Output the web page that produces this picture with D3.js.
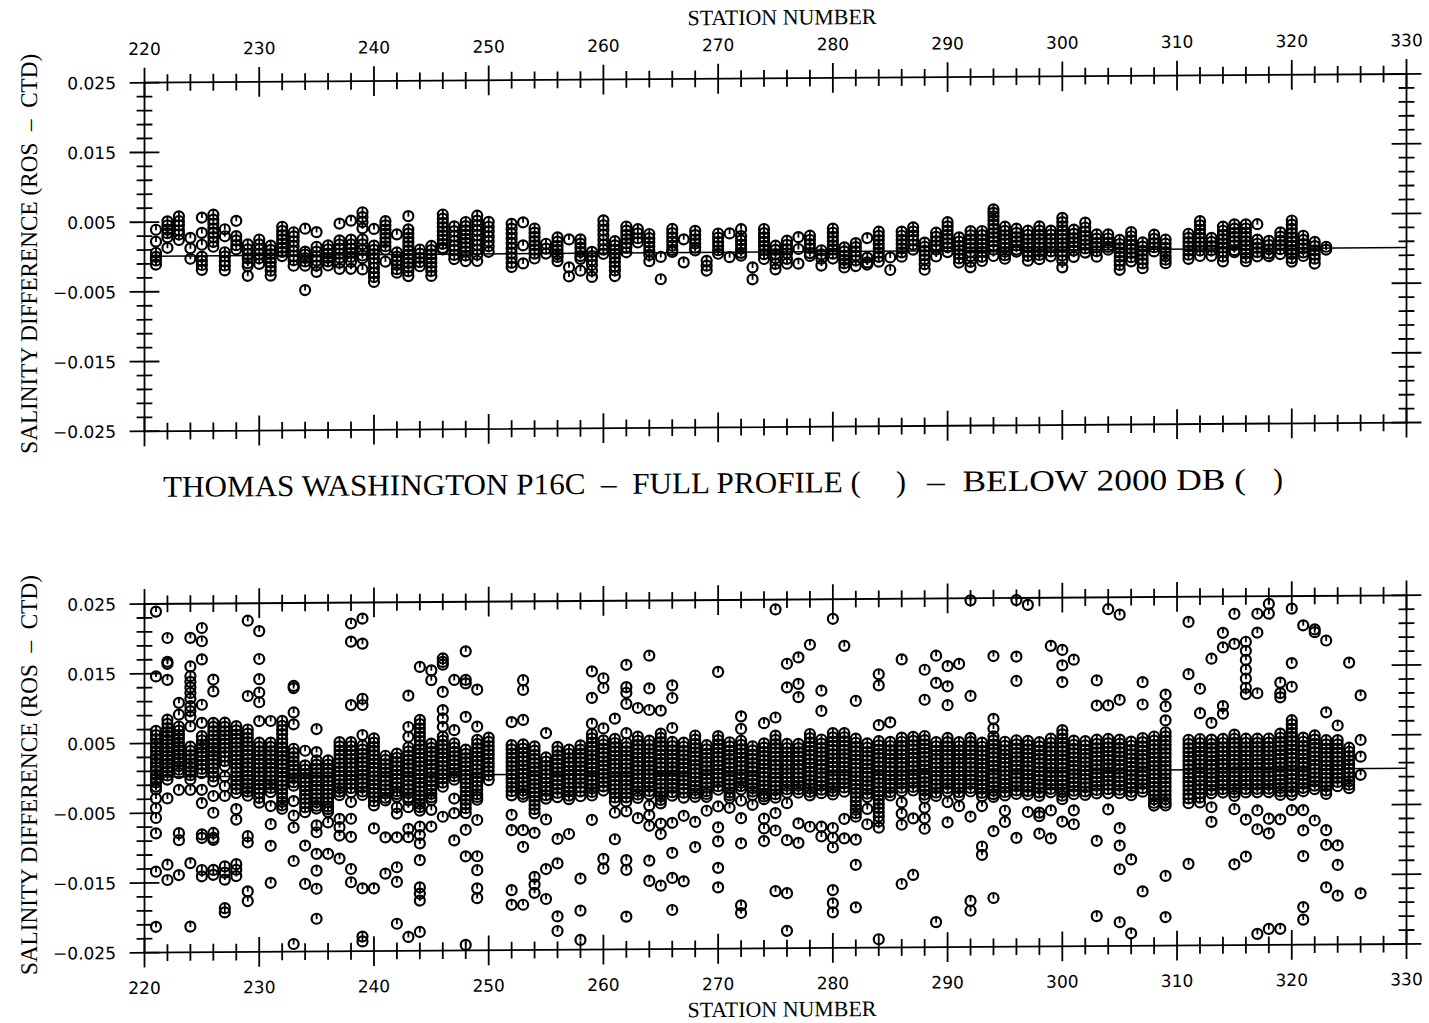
<!DOCTYPE html>
<html>
<head>
<meta charset="utf-8">
<script src="https://cdn.jsdelivr.net/npm/d3@7"></script>
<style>
  html, body { margin: 0; padding: 0; background: #fff; }
  svg { display: block; }
  text { white-space: pre; }
</style>
</head>
<body>
<svg id="chart" width="1429" height="1023"></svg>
<script>
// ---------------------------------------------------------------------------
// Salinity difference (bottle minus CTD) per station, in units of 0.001.
// ---------------------------------------------------------------------------

// Upper panel: stations and their differences
const upperStations = [
  221,222,223,224,225,226,227,228,229,230,231,232,233,234,235,236,237,238,239,240,
  241,242,243,244,245,246,247,248,249,250,
  252,253,254,255,256,257,258,259,260,261,262,263,264,265,266,267,268,269,270,
  271,272,273,274,275,276,277,278,279,280,281,282,283,284,285,286,287,288,289,290,
  291,292,293,294,295,296,297,298,299,300,301,302,303,304,305,306,307,308,309,
  311,312,313,314,315,316,317,318,319,320,321,322,323
];
const upperDiffs = [
  [3.9, 2.2, 0.6, 0.0, -0.5, -1.1],                       // 221
  [5.1, 4.5, 3.9, 3.4, 2.8, 1.3],                         // 222
  [5.8, 5.1, 4.5, 3.8, 3.2, 2.4],                         // 223
  [2.7, 1.2, -0.3],                                       // 224
  [5.6, 3.4, 1.7, 0.0, -0.6, -1.2, -1.9],                 // 225
  [6.0, 5.3, 4.7, 4.0, 3.4, 2.8, 2.1, 1.4],               // 226
  [3.9, 2.9, 0.6, 0.0, -0.7, -1.3, -2.0],                 // 227
  [5.1, 2.9, 2.3, 1.6, 1.0],                              // 228
  [1.7, 1.0, 0.3, -0.3, -1.0, -1.4, -2.8],                // 229
  [2.4, 1.7, 1.0, 0.3, -0.3, -1.1],                       // 230
  [1.5, 0.9, 0.3, -0.3, -0.9, -1.5, -2.1, -2.8],          // 231
  [4.2, 3.6, 3.0, 2.4, 1.8, 1.2, 0.6, 0.0],               // 232
  [3.4, 2.8, 2.1, 1.4, 0.7, 0.0, -0.6, -1.4],             // 233
  [3.9, 0.6, 0.2, -0.3, -0.8, -1.4, -4.9],                // 234
  [3.4, 1.3, 0.6, -0.1, -0.7, -1.4, -2.3],                // 235
  [1.5, 0.9, 0.3, -0.3, -0.8, -1.4],                      // 236
  [4.6, 2.2, 1.6, 1.0, 0.3, -0.3, -1.0, -1.9],            // 237
  [5.0, 2.3, 1.6, 1.0, 0.4, -0.2, -0.9, -1.9],            // 238
  [6.2, 5.5, 4.8, 3.9, 2.3, 1.6, 0.8, 0.0, -0.4, -2.0],   // 239
  [3.8, 1.4, 0.8, 0.2, -0.4, -1.1, -1.8, -2.5, -3.1, -3.8], // 240
  [4.9, 4.3, 3.7, 3.1, 2.5, 1.9, 1.3, 0.8, -0.9],         // 241
  [3.0, 0.4, -0.2, -0.8, -1.4, -2.0, -2.5],               // 242
  [5.6, 3.7, 3.1, 2.5, 1.9, 1.3, 0.7, 0.1, -0.5, -1.1, -1.7, -2.3, -3.0], // 243
  [0.8, 0.2, -0.4, -1.0, -1.6],                           // 244
  [1.3, 0.7, 0.1, -0.5, -1.1, -1.7, -2.3, -3.0],          // 245
  [5.8, 5.2, 4.6, 4.0, 3.4, 2.8, 2.2, 1.6, 1.0, 0.8],     // 246
  [4.1, 3.4, 2.7, 2.0, 1.3, 0.7, 0.0, -0.6],              // 247
  [4.7, 4.1, 3.5, 2.9, 2.3, 1.7, 1.1, 0.5, -0.1, -0.9],   // 248
  [5.6, 4.9, 4.2, 3.5, 2.8, 2.1, 1.4, 0.7, 0.0, -0.9],    // 249
  [4.7, 4.0, 3.3, 2.6, 1.9, 1.2, 0.4],                    // 250
  [4.4, 3.7, 3.0, 2.3, 1.6, 0.9, 0.2, -0.5, -1.2, -1.8],  // 252
  [4.6, 1.3, -1.3],                                       // 253
  [3.7, 3.1, 2.5, 1.9, 1.3, 0.7, 0.1, -0.6],              // 254
  [1.5, 0.8, 0.1],                                        // 255
  [2.4, 1.8, 1.2, 0.6, 0.0, -0.4, -1.0],                  // 256
  [2.1, -1.9, -3.2],                                      // 257
  [2.1, 1.5, 0.9, 0.3, -0.3, -0.7, -2.4],                 // 258
  [0.3, -0.3, -0.9, -1.6, -2.4, -3.3],                    // 259
  [4.8, 4.1, 3.4, 2.7, 2.0, 1.3, 0.6, 0.0],               // 260
  [1.8, 1.2, 0.6, 0.0, -0.6, -1.2, -1.8, -2.4, -3.2],     // 261
  [3.9, 3.3, 2.7, 2.1, 1.5, 0.9, 0.2],                    // 262
  [3.5, 2.9, 2.2, 1.6],                                   // 263
  [2.8, 2.2, 1.6, 1.0, 0.4, -0.2, -1.1],                  // 264
  [-0.5, -3.7],                                           // 265
  [3.5, 2.9, 2.3, 1.7, 1.1, 0.5, 0.2],                    // 266
  [2.0, -1.3],                                            // 267
  [3.2, 2.6, 2.0, 1.4, 0.8, 0.4],                         // 268
  [-1.1, -1.8, -2.5],                                     // 269
  [2.8, 2.2, 1.6, 1.0, 0.4, -0.1],                        // 270
  [2.8, -0.6],                                            // 271
  [3.4, 2.4, 1.8, 1.2, 0.6, 0.0, -0.4],                   // 272
  [-2.1, -3.8],                                           // 273
  [3.4, 2.8, 2.2, 1.6, 1.0, 0.4, -0.2, -0.9],             // 274
  [1.0, 0.4, -0.2, -0.8, -1.6, -2.4],                     // 275
  [1.7, 1.1, 0.5, -0.1, -0.9, -1.6],                      // 276
  [2.2, 0.5, -1.6],                                       // 277
  [2.4, 1.8, 1.2, 0.6, -0.1, -0.5],                       // 278
  [0.3, -0.3, -0.9, -1.9],                                // 279
  [3.4, 2.8, 2.2, 1.6, 1.0, 0.4, -0.2, -0.9],             // 280
  [0.7, 0.1, -0.5, -1.1, -1.6, -2.2],                     // 281
  [1.3, 0.7, 0.1, -0.5, -1.2, -2.0],                      // 282
  [2.0, -0.8, -1.5, -1.8],                                // 283
  [2.9, 2.3, 1.7, 1.1, 0.5, -0.1, -0.7, -1.4],            // 284
  [-0.8, -2.6],                                           // 285
  [2.9, 2.3, 1.7, 1.1, 0.5, -0.1, -0.7],                  // 286
  [3.5, 2.9, 2.3, 1.7, 1.0, 0.3],                         // 287
  [1.3, 0.7, 0.1, -0.5, -1.1, -1.8, -2.6],                // 288
  [2.7, 2.1, 1.5, 0.9, 0.3, -0.7],                        // 289
  [4.2, 3.6, 3.0, 2.4, 1.8, 1.2, 0.6, -0.1],              // 290
  [2.0, 1.4, 0.8, 0.2, -0.4, -1.0, -1.6],                 // 291
  [2.9, 2.3, 1.7, 1.1, 0.5, -0.1, -0.7, -1.5, -2.3],      // 292
  [2.9, 2.3, 1.7, 1.1, 0.5, -0.1, -0.8, -1.4],            // 293
  [6.0, 5.5, 5.0, 4.4, 3.8, 3.2, 2.6, 2.0, 1.4, 0.8, 0.2, -0.7], // 294
  [3.5, 2.9, 2.3, 1.7, 1.1, 0.5, -0.1, -0.6, -1.1],       // 295
  [3.2, 2.6, 2.0, 1.4, 0.8, 0.2, -0.1],                   // 296
  [2.9, 2.3, 1.7, 1.1, 0.5, -0.1, -0.7, -1.4],            // 297
  [3.5, 2.9, 2.3, 1.7, 1.1, 0.5, -0.1, -0.6, -1.2],       // 298
  [2.9, 2.3, 1.7, 1.1, 0.5, -0.1, -0.8],                  // 299
  [4.7, 4.1, 3.5, 2.9, 2.3, 1.7, 1.1, 0.5, -0.1, -0.7, -1.4, -2.4], // 300
  [3.0, 2.4, 1.8, 1.2, 0.6, 0.0, -0.9],                   // 301
  [4.0, 3.3, 2.7, 2.1, 1.5, 0.9, 0.3, -0.3],              // 302
  [2.3, 1.7, 1.1, 0.5, -0.1, -0.9],                       // 303
  [2.3, 1.7, 1.1, 0.5, 0.1],                              // 304
  [1.5, 0.9, 0.3, -0.3, -0.9, -1.5, -2.1, -2.8],          // 305
  [2.6, 2.0, 1.4, 0.8, 0.2, -0.4, -1.0, -1.6],            // 306
  [1.1, 0.5, -0.1, -0.7, -1.3, -1.9, -2.6],               // 307
  [2.2, 1.6, 1.0, 0.4, -0.2],                             // 308
  [1.5, 0.9, 0.3, -0.3, -0.9, -1.4, -1.9],                // 309
  [2.3, 1.7, 1.1, 0.5, -0.1, -0.7, -1.3],                 // 311
  [4.1, 3.5, 2.9, 2.3, 1.7, 1.1, 0.5, -0.1, -0.9],        // 312
  [1.7, 1.1, 0.5, -0.1, -0.9],                            // 313
  [3.3, 2.7, 2.1, 1.5, 0.9, 0.3, -0.3, -1.0, -1.7],       // 314
  [3.6, 3.0, 2.4, 1.8, 1.2, 0.6, -0.1, -0.4],             // 315
  [3.6, 3.0, 2.4, 1.8, 1.2, 0.6, 0.0, -0.6, -1.2, -1.7],  // 316
  [3.6, 1.4, 0.8, 0.2, -0.4, -1.0],                       // 317
  [1.2, 0.6, 0.0, -0.6, -1.0],                            // 318
  [2.4, 1.8, 1.2, 0.6, 0.0, -0.7],                        // 319
  [4.1, 3.5, 2.9, 2.3, 1.7, 1.1, 0.5, -0.1, -0.7, -1.3, -1.8], // 320
  [1.9, 1.3, 0.7, 0.1, -0.5, -1.0],                       // 321
  [1.0, 0.4, -0.2, -0.8, -1.4, -2.1],                     // 322
  [0.3, -0.1]                                             // 323
];

// Lower panel: stations and their differences
const lowerStations = [
  221,222,223,224,225,226,227,228,229,230,231,232,233,234,235,236,237,238,239,240,
  241,242,243,244,245,246,247,248,249,250,
  252,253,254,255,256,257,258,259,260,261,262,263,264,265,266,267,268,269,270,
  271,272,273,274,275,276,277,278,279,280,281,282,283,284,285,286,287,288,289,290,
  291,292,293,294,295,296,297,298,299,300,301,302,303,304,305,306,307,308,309,
  311,312,313,314,315,316,317,318,319,320,321,322,323,324,325,326
];
const lowerDiffs = [
  [23.9, 14.6, 6.8, 6.2, 5.6, 5.0, 4.5, 3.9, 3.3, 2.8, 2.2, 1.6, 1.1, 0.5, -0.1, -0.6, -1.2, -1.6, -2.9, -4.3, -5.7, -7.9, -13.4, -21.3], // 221
  [20.1, 16.7, 16.4, 14.1, 8.4, 7.8, 7.2, 6.6, 6.1, 5.5, 4.9, 4.4, 3.8, 3.2, 2.7, 2.1, 1.5, 1.0, 0.4, -0.2, -2.9, -12.4, -14.6], // 222
  [10.8, 9.1, 7.4, 6.8, 6.2, 5.7, 5.1, 4.5, 4.0, 3.4, 2.8, 2.3, 1.7, 1.2, 0.7, -1.7, -7.9, -8.9, -13.9], // 223
  [20.1, 16.0, 14.6, 13.8, 13.0, 12.2, 11.4, 10.3, 9.6, 8.8, 7.4, 4.5, 3.9, 3.3, 2.7, 2.1, 1.6, 1.0, 0.4, -0.2, -1.7, -12.2, -21.3], // 224
  [21.5, 19.6, 17.0, 10.5, 7.9, 6.0, 5.4, 4.8, 4.3, 3.7, 3.1, 2.5, 1.9, 1.3, 0.7, -1.7, -3.6, -8.1, -8.6, -13.2, -14.1], // 225
  [14.1, 12.4, 7.9, 7.3, 6.7, 6.1, 5.5, 4.9, 4.3, 3.8, 3.2, 2.6, 2.0, 1.4, 0.8, 0.2, -0.5, -2.6, -5.0, -7.9, -8.6, -8.9, -13.2, -13.9], // 226
  [7.9, 7.3, 6.7, 6.1, 5.5, 4.9, 4.3, 3.7, 3.1, 2.4, 1.7, 0.2, -1.2, -2.6, -12.7, -13.6, -14.6, -18.7, -19.3], // 227
  [7.4, 6.8, 6.2, 5.6, 5.0, 4.4, 3.8, 3.2, 2.6, 2.0, 1.4, 0.8, 0.2, -0.4, -1.0, -1.6, -2.2, -4.5, -6.0, -12.4, -13.2, -14.1], // 228
  [22.5, 11.7, 6.9, 6.3, 5.7, 5.1, 4.5, 3.9, 3.3, 2.7, 2.1, 1.5, 0.9, 0.3, -0.3, -0.9, -1.5, -2.0, -2.6, -8.4, -9.3, -16.3, -17.7], // 229
  [21.0, 17.0, 14.1, 12.2, 10.8, 8.1, 5.0, 4.4, 3.8, 3.2, 2.6, 2.0, 1.4, 0.8, 0.2, -0.4, -1.0, -1.6, -2.2, -2.9, -3.6], // 230
  [8.1, 5.0, 4.4, 3.8, 3.2, 2.6, 2.0, 1.4, 0.8, 0.2, -0.4, -1.0, -1.5, -2.1, -4.1, -6.7, -9.8, -15.1], // 231
  [8.1, 7.4, 6.8, 6.2, 5.5, 4.9, 4.3, 3.7, 3.1, 2.5, 1.9, 1.3, 0.7, 0.1, -0.5, -1.1, -1.7, -2.3, -2.9, -3.5, -4.0, -4.5], // 232
  [13.1, 12.8, 9.3, 7.6, 4.1, 3.5, 2.9, 2.3, 1.7, 1.1, 0.5, -0.1, -0.7, -1.2, -3.4, -5.5, -7.2, -12.0, -23.9], // 233
  [3.8, 1.7, 1.1, 0.5, -0.1, -0.7, -1.3, -1.9, -2.5, -3.1, -3.7, -4.3, -5.0, -9.8, -15.3], // 234
  [6.9, 3.6, 2.4, 1.8, 1.2, 0.6, 0.0, -0.6, -1.2, -1.8, -2.4, -3.0, -3.6, -4.1, -4.5, -6.9, -7.9, -11.0, -13.4, -16.0, -20.3], // 235
  [2.4, 1.8, 1.2, 0.6, 0.0, -0.6, -1.2, -1.8, -2.4, -3.0, -3.6, -4.2, -4.6, -5.0, -6.5, -11.0], // 236
  [5.0, 4.4, 3.8, 3.2, 2.6, 2.0, 1.4, 0.8, 0.2, -0.4, -1.0, -1.6, -2.1, -2.6, -6.0, -7.2, -8.4, -11.7], // 237
  [22.0, 19.4, 10.3, 5.0, 4.4, 3.8, 3.2, 2.6, 2.0, 1.4, 0.8, 0.2, -0.4, -1.0, -1.6, -2.2, -3.6, -6.0, -8.6, -13.2, -15.1], // 238
  [22.7, 19.1, 11.2, 10.3, 6.0, 4.5, 3.9, 3.3, 2.7, 2.1, 1.5, 0.9, 0.3, -0.3, -0.9, -1.5, -2.1, -2.6, -16.0, -22.9, -23.6], // 239
  [5.5, 4.9, 4.3, 3.7, 3.1, 2.5, 1.9, 1.3, 0.7, 0.1, -0.5, -1.1, -1.7, -2.3, -2.9, -3.5, -4.1, -7.4, -16.0], // 240
  [3.0, 2.4, 1.8, 1.2, 0.6, 0.0, -0.6, -1.2, -1.8, -2.4, -3.0, -3.4, -8.7, -13.9], // 241
  [3.3, 2.7, 2.1, 1.5, 0.9, 0.3, -0.3, -0.9, -1.5, -2.1, -2.5, -2.9, -4.4, -5.3, -8.7, -13.0, -15.1, -21.1], // 242
  [11.6, 7.1, 5.7, 4.2, 3.6, 3.0, 2.4, 1.8, 1.2, 0.6, 0.0, -0.6, -1.2, -1.8, -2.4, -3.0, -3.4, -4.4, -7.5, -8.7, -23.0], // 243
  [15.7, 8.1, 7.5, 6.9, 6.3, 5.7, 5.1, 4.5, 3.9, 3.3, 2.7, 2.1, 1.5, 0.9, 0.3, -0.3, -0.9, -1.5, -2.1, -2.7, -3.3, -3.9, -4.4, -4.9, -7.2, -8.4, -9.6, -12.0, -15.9, -16.8, -17.8, -22.3], // 244
  [15.2, 13.8, 4.7, 4.1, 3.5, 2.9, 2.3, 1.7, 1.1, 0.5, -0.1, -0.7, -1.3, -1.9, -2.5, -3.0, -3.4, -4.8, -7.2], // 245
  [16.9, 16.4, 16.0, 12.1, 9.5, 8.3, 7.1, 5.7, 5.1, 4.5, 3.9, 3.3, 2.7, 2.1, 1.5, 0.9, 0.3, -0.3, -0.9, -1.5, -5.8], // 246
  [13.8, 6.6, 4.7, 4.1, 3.5, 2.9, 2.3, 1.7, 1.1, 0.5, 0.0, -0.5, -3.2, -5.3, -9.2], // 247
  [17.9, 13.8, 13.3, 8.5, 3.8, 3.2, 2.6, 2.0, 1.4, 0.8, 0.2, -0.4, -1.0, -1.6, -2.2, -2.8, -3.4, -4.0, -4.6, -5.3, -7.7, -11.5, -24.2], // 248
  [12.4, 7.1, 5.2, 4.6, 4.0, 3.4, 2.8, 2.2, 1.6, 1.0, 0.4, -0.2, -0.8, -1.4, -2.0, -2.6, -3.0, -3.4, -6.3, -11.5, -13.5, -16.1, -17.5], // 249
  [5.5, 4.9, 4.3, 3.7, 3.1, 2.5, 1.9, 1.3, 0.7, 0.1, -0.6], // 250
  [7.7, 4.4, 3.8, 3.2, 2.6, 2.0, 1.4, 0.8, 0.2, -0.4, -1.0, -1.6, -2.2, -2.8, -5.6, -7.8, -16.4, -18.5], // 252
  [13.7, 12.3, 8.0, 4.5, 3.9, 3.3, 2.7, 2.1, 1.5, 0.9, 0.3, -0.3, -0.9, -1.5, -2.1, -2.6, -3.0, -7.8, -10.2, -18.5], // 253
  [4.2, 3.6, 3.0, 2.4, 1.8, 1.2, 0.6, 0.0, -0.6, -1.2, -1.8, -2.4, -3.0, -3.6, -4.2, -4.8, -5.4, -8.2, -14.5, -15.6, -16.8], // 254
  [6.1, 2.6, 2.0, 1.4, 0.8, 0.2, -0.4, -1.0, -1.6, -2.2, -2.8, -3.3, -6.3, -13.4, -17.7], // 255
  [4.1, 3.5, 2.9, 2.3, 1.7, 1.1, 0.5, -0.1, -0.7, -1.3, -1.9, -2.5, -3.1, -9.1, -12.6, -20.2, -22.3], // 256
  [3.7, 3.1, 2.5, 1.9, 1.3, 0.7, 0.1, -0.5, -1.1, -1.7, -2.3, -2.9, -3.4, -8.4], // 257
  [4.3, 3.7, 3.1, 2.5, 1.9, 1.3, 0.7, 0.1, -0.5, -1.1, -1.7, -2.3, -3.0, -14.8, -19.4, -23.6], // 258
  [14.9, 11.1, 7.4, 5.9, 5.3, 4.7, 4.1, 3.5, 2.9, 2.3, 1.7, 1.1, 0.5, -0.1, -0.7, -1.3, -1.9, -2.4, -2.9, -6.4], // 259
  [13.9, 12.5, 6.7, 5.0, 4.4, 3.8, 3.2, 2.6, 2.0, 1.4, 0.8, 0.2, -0.4, -1.0, -1.6, -2.2, -12.0, -13.4], // 260
  [8.1, 5.2, 4.6, 4.0, 3.4, 2.8, 2.2, 1.6, 1.0, 0.4, -0.2, -0.8, -1.4, -2.0, -2.6, -3.2, -3.8, -5.4, -9.2], // 261
  [15.8, 12.6, 11.8, 10.2, 6.0, 4.6, 4.0, 3.4, 2.8, 2.2, 1.6, 1.0, 0.4, -0.2, -0.8, -1.4, -2.0, -2.6, -3.2, -3.8, -5.2, -12.2, -13.6, -20.3], // 262
  [9.6, 5.5, 4.9, 4.3, 3.7, 3.1, 2.5, 1.9, 1.3, 0.7, 0.1, -0.5, -1.1, -1.7, -2.3, -2.8, -3.3, -6.2], // 263
  [17.1, 12.4, 9.3, 4.9, 4.3, 3.7, 3.1, 2.5, 1.9, 1.3, 0.7, 0.1, -0.5, -1.1, -1.7, -2.3, -2.8, -4.4, -5.8, -7.3, -12.3, -15.2], // 264
  [9.2, 5.9, 5.3, 4.7, 4.1, 3.5, 2.9, 2.3, 1.7, 1.1, 0.5, -0.1, -0.7, -1.3, -1.9, -2.5, -3.1, -3.6, -4.1, -7.0, -8.5, -15.9], // 265
  [12.8, 11.0, 6.7, 4.7, 4.1, 3.5, 2.9, 2.3, 1.7, 1.1, 0.5, -0.1, -0.7, -1.3, -1.9, -2.5, -3.0, -6.9, -11.2, -14.8, -19.4], // 266
  [4.6, 4.0, 3.4, 2.8, 2.2, 1.6, 1.0, 0.4, -0.2, -0.8, -1.4, -2.0, -2.6, -3.3, -5.9, -15.3], // 267
  [5.6, 5.0, 4.4, 3.8, 3.2, 2.6, 2.0, 1.4, 0.8, 0.2, -0.4, -1.0, -1.6, -2.2, -2.7, -3.2, -6.8, -10.4], // 268
  [4.2, 3.6, 3.0, 2.4, 1.8, 1.2, 0.6, 0.0, -0.6, -1.2, -1.8, -2.4, -2.8, -3.2, -5.2], // 269
  [14.7, 5.5, 4.9, 4.3, 3.7, 3.1, 2.5, 1.9, 1.3, 0.7, 0.1, -0.5, -1.1, -1.7, -2.2, -4.6, -7.6, -9.6, -13.4, -16.2], // 270
  [4.6, 4.0, 3.4, 2.8, 2.2, 1.6, 1.0, 0.4, -0.2, -0.8, -1.4, -2.0, -2.6, -3.0, -3.4, -4.8], // 271
  [8.3, 6.5, 4.8, 4.2, 3.6, 3.0, 2.4, 1.8, 1.2, 0.6, 0.0, -0.6, -1.2, -1.7, -2.2, -3.8, -6.3, -9.9, -18.8, -19.9], // 272
  [4.0, 3.4, 2.8, 2.2, 1.6, 1.0, 0.4, -0.2, -0.8, -1.4, -2.0, -2.5, -3.0, -4.4], // 273
  [7.3, 4.4, 3.8, 3.2, 2.6, 2.0, 1.4, 0.8, 0.2, -0.4, -1.0, -1.6, -2.2, -2.8, -3.2, -3.6, -6.4, -7.8, -9.6], // 274
  [23.6, 8.1, 5.5, 4.9, 4.3, 3.7, 3.1, 2.5, 1.9, 1.3, 0.7, 0.1, -0.5, -1.1, -1.7, -2.3, -2.9, -3.4, -5.6, -8.1, -16.8], // 275
  [15.8, 12.4, 4.3, 3.7, 3.1, 2.5, 1.9, 1.3, 0.7, 0.1, -0.5, -1.1, -1.7, -2.2, -2.7, -4.2, -9.5, -17.1, -22.5], // 276
  [16.7, 12.9, 11.0, 4.3, 3.7, 3.1, 2.5, 1.9, 1.3, 0.7, 0.1, -0.5, -1.1, -1.7, -2.2, -2.7, -7.1, -9.9], // 277
  [18.5, 5.7, 5.1, 4.5, 3.9, 3.3, 2.7, 2.1, 1.5, 0.9, 0.3, -0.3, -0.9, -1.5, -2.1, -2.6, -3.1, -7.6], // 278
  [11.9, 9.0, 4.9, 4.3, 3.7, 3.1, 2.5, 1.9, 1.3, 0.7, 0.1, -0.5, -1.1, -1.7, -2.3, -2.8, -7.6, -9.0], // 279
  [22.2, 5.8, 5.2, 4.6, 4.0, 3.4, 2.8, 2.2, 1.6, 1.0, 0.4, -0.2, -0.8, -1.4, -2.0, -2.5, -3.0, -7.8, -9.2, -10.6, -16.7, -18.6, -19.9], // 280
  [18.3, 5.8, 5.2, 4.6, 4.0, 3.4, 2.8, 2.2, 1.6, 1.0, 0.4, -0.2, -0.8, -1.4, -2.0, -2.6, -6.5, -9.3], // 281
  [10.4, 5.0, 4.4, 3.8, 3.2, 2.6, 2.0, 1.4, 0.8, 0.2, -0.4, -1.0, -1.6, -2.2, -2.8, -3.4, -4.0, -4.6, -5.2, -5.7, -6.2, -9.5, -13.1, -19.2], // 282
  [4.3, 3.7, 3.1, 2.5, 1.9, 1.3, 0.7, 0.1, -0.5, -1.1, -1.7, -2.3, -2.9, -3.4, -5.1, -7.3], // 283
  [14.2, 12.6, 6.9, 4.6, 4.0, 3.4, 2.8, 2.2, 1.6, 1.0, 0.4, -0.2, -0.8, -1.4, -2.0, -2.6, -3.2, -3.8, -4.4, -5.0, -5.6, -6.2, -6.9, -7.8, -23.8], // 284
  [7.3, 4.5, 3.9, 3.3, 2.7, 2.1, 1.5, 0.9, 0.3, -0.3, -0.9, -1.5, -2.1, -2.7, -3.2], // 285
  [16.3, 5.1, 4.5, 3.9, 3.3, 2.7, 2.1, 1.5, 0.9, 0.3, -0.3, -0.9, -1.5, -2.1, -2.6, -4.2, -5.8, -7.4, -15.9], // 286
  [5.2, 4.6, 4.0, 3.4, 2.8, 2.2, 1.6, 1.0, 0.4, -0.2, -0.8, -1.4, -2.0, -2.5, -6.5, -14.6], // 287
  [14.8, 10.5, 5.3, 4.7, 4.1, 3.5, 2.9, 2.3, 1.7, 1.1, 0.5, -0.1, -0.7, -1.3, -1.9, -2.5, -3.1, -3.6, -5.0, -6.5, -8.0], // 288
  [16.8, 12.9, 4.4, 3.8, 3.2, 2.6, 2.0, 1.4, 0.8, 0.2, -0.4, -1.0, -1.6, -2.2, -2.8, -3.3, -21.4], // 289
  [15.3, 12.4, 9.7, 5.0, 4.4, 3.8, 3.2, 2.6, 2.0, 1.4, 0.8, 0.2, -0.4, -1.0, -1.6, -2.2, -2.7, -4.2, -7.1], // 290
  [15.6, 4.4, 3.8, 3.2, 2.6, 2.0, 1.4, 0.8, 0.2, -0.4, -1.0, -1.6, -2.2, -2.8, -3.3, -4.8], // 291
  [24.7, 11.0, 5.0, 4.4, 3.8, 3.2, 2.6, 2.0, 1.4, 0.8, 0.2, -0.4, -1.0, -1.6, -2.2, -2.7, -6.3, -18.4, -19.8], // 292
  [4.3, 3.7, 3.1, 2.5, 1.9, 1.3, 0.7, 0.1, -0.5, -1.1, -1.7, -2.3, -2.9, -3.4, -4.8, -10.6, -11.8], // 293
  [16.7, 7.7, 6.3, 5.2, 4.6, 4.0, 3.4, 2.8, 2.2, 1.6, 1.0, 0.4, -0.2, -0.8, -1.4, -2.0, -2.6, -3.1, -3.5, -8.4, -18.0], // 294
  [4.4, 3.8, 3.2, 2.6, 2.0, 1.4, 0.8, 0.2, -0.4, -1.0, -1.6, -2.2, -2.8, -3.3, -5.5, -7.1], // 295
  [24.7, 16.6, 13.1, 4.6, 4.0, 3.4, 2.8, 2.2, 1.6, 1.0, 0.4, -0.2, -0.8, -1.4, -2.0, -2.6, -3.1, -9.4], // 296
  [24.0, 4.5, 3.9, 3.3, 2.7, 2.1, 1.5, 0.9, 0.3, -0.3, -0.9, -1.5, -2.1, -2.7, -3.2, -5.7], // 297
  [4.3, 3.7, 3.1, 2.5, 1.9, 1.3, 0.7, 0.1, -0.5, -1.1, -1.7, -2.3, -2.9, -3.4, -5.8, -6.3, -8.8], // 298
  [18.1, 4.8, 4.2, 3.6, 3.0, 2.4, 1.8, 1.2, 0.6, 0.0, -0.6, -1.2, -1.8, -2.4, -2.9, -5.5, -9.5], // 299
  [17.5, 15.3, 12.9, 6.0, 5.4, 4.8, 4.2, 3.6, 3.0, 2.4, 1.8, 1.2, 0.6, 0.0, -0.6, -1.2, -1.8, -2.4, -2.9, -3.4, -3.9, -7.1], // 300
  [16.1, 4.5, 3.9, 3.3, 2.7, 2.1, 1.5, 0.9, 0.3, -0.3, -0.9, -1.5, -2.1, -2.7, -3.2, -5.5, -7.5], // 301
  [4.4, 3.8, 3.2, 2.6, 2.0, 1.4, 0.8, 0.2, -0.4, -1.0, -1.6, -2.2, -2.8, -3.3], // 302
  [13.1, 9.5, 4.6, 4.0, 3.4, 2.8, 2.2, 1.6, 1.0, 0.4, -0.2, -0.8, -1.4, -2.0, -2.6, -3.1, -9.9, -20.7], // 303
  [23.3, 9.5, 4.7, 4.1, 3.5, 2.9, 2.3, 1.7, 1.1, 0.5, -0.1, -0.7, -1.3, -1.9, -2.5, -3.1, -5.4], // 304
  [22.5, 10.3, 4.6, 4.0, 3.4, 2.8, 2.2, 1.6, 1.0, 0.4, -0.2, -0.8, -1.4, -2.0, -2.6, -3.1, -8.1, -10.6, -14.0, -21.6], // 305
  [4.3, 3.7, 3.1, 2.5, 1.9, 1.3, 0.7, 0.1, -0.5, -1.1, -1.7, -2.3, -2.9, -3.4, -12.6, -23.2], // 306
  [12.8, 9.6, 4.8, 4.2, 3.6, 3.0, 2.4, 1.8, 1.2, 0.6, 0.0, -0.6, -1.2, -1.8, -2.4, -2.9, -17.2], // 307
  [5.0, 4.4, 3.8, 3.2, 2.6, 2.0, 1.4, 0.8, 0.2, -0.4, -1.0, -1.6, -2.2, -2.8, -3.4, -4.0, -4.5, -4.9], // 308
  [11.0, 9.3, 7.3, 5.6, 5.0, 4.4, 3.8, 3.2, 2.6, 2.0, 1.4, 0.8, 0.2, -0.4, -1.0, -1.6, -2.2, -2.8, -3.4, -4.0, -4.5, -4.9, -15.0, -20.9], // 309
  [21.4, 13.9, 4.5, 3.9, 3.3, 2.7, 2.1, 1.5, 0.9, 0.3, -0.3, -0.9, -1.5, -2.1, -2.7, -3.3, -3.9, -4.6, -13.3], // 311
  [11.8, 8.3, 4.6, 4.0, 3.4, 2.8, 2.2, 1.6, 1.0, 0.4, -0.2, -0.8, -1.4, -2.0, -2.6, -3.2, -3.8, -4.5], // 312
  [16.1, 6.9, 4.5, 3.9, 3.3, 2.7, 2.1, 1.5, 0.9, 0.3, -0.3, -0.9, -1.5, -2.1, -2.7, -3.2, -5.2, -7.3], // 313
  [19.8, 17.7, 9.3, 8.2, 4.6, 4.0, 3.4, 2.8, 2.2, 1.6, 1.0, 0.4, -0.2, -0.8, -1.4, -2.0, -2.6, -3.1], // 314
  [22.5, 18.2, 5.2, 4.6, 4.0, 3.4, 2.8, 2.2, 1.6, 1.0, 0.4, -0.2, -0.8, -1.4, -2.0, -2.6, -3.1, -3.6, -5.5, -13.4], // 315
  [18.5, 17.2, 15.9, 14.5, 13.2, 11.9, 11.0, 4.6, 4.0, 3.4, 2.8, 2.2, 1.6, 1.0, 0.4, -0.2, -0.8, -1.4, -2.0, -2.6, -3.1, -7.0, -12.3], // 316
  [22.5, 19.8, 11.1, 4.6, 4.0, 3.4, 2.8, 2.2, 1.6, 1.0, 0.4, -0.2, -0.8, -1.4, -2.0, -2.6, -3.1, -5.7, -8.4, -23.4], // 317
  [23.9, 22.5, 4.6, 4.0, 3.4, 2.8, 2.2, 1.6, 1.0, 0.4, -0.2, -0.8, -1.4, -2.0, -2.6, -3.1, -6.9, -9.0, -22.7], // 318
  [12.6, 11.1, 10.5, 5.3, 4.7, 4.1, 3.5, 2.9, 2.3, 1.7, 1.1, 0.5, -0.1, -0.7, -1.3, -1.9, -2.5, -3.0, -3.5, -7.0, -22.7], // 319
  [23.2, 15.4, 12.0, 7.2, 6.6, 6.0, 5.4, 4.8, 4.2, 3.6, 3.0, 2.4, 1.8, 1.2, 0.6, 0.0, -0.6, -1.2, -1.8, -2.4, -3.0, -3.5, -5.7], // 320
  [20.8, 4.7, 4.1, 3.5, 2.9, 2.3, 1.7, 1.1, 0.5, -0.1, -0.7, -1.3, -1.9, -2.5, -3.0, -5.7, -8.6, -12.3, -19.6, -21.4], // 321
  [20.2, 19.8, 5.0, 4.4, 3.8, 3.2, 2.6, 2.0, 1.4, 0.8, 0.2, -0.4, -1.0, -1.6, -2.2, -2.7, -7.2], // 322
  [18.6, 8.3, 4.3, 3.7, 3.1, 2.5, 1.9, 1.3, 0.7, 0.1, -0.5, -1.1, -1.7, -2.3, -2.9, -3.4, -8.6, -10.7, -16.8], // 323
  [6.4, 4.3, 3.7, 3.1, 2.5, 1.9, 1.3, 0.7, 0.1, -0.5, -1.1, -1.7, -2.3, -10.8, -13.6, -18.0], // 324
  [15.4, 3.2, 2.6, 2.0, 1.4, 0.8, 0.2, -0.4, -1.0, -1.6, -2.1, -2.6], // 325
  [10.7, 4.3, 1.9, -0.7, -17.7] // 326
];

// Level of the reference line in each panel (units of 0.001)
const upperLineLevel = 0.1;
const lowerLineLevel = 0.2;

// Axis tick values and labels
const stationDomain = [220, 330];
const stationTickLabels = [220, 230, 240, 250, 260, 270, 280, 290, 300, 310, 320, 330];
const salinityDomain = [-0.025, 0.025];
const salinityTickValues = [0.025, 0.015, 0.005, -0.005, -0.015, -0.025];
const salinityTickLabels = ["0.025", "0.015", "0.005", "\u22120.005", "\u22120.015", "\u22120.025"];

// Title pieces (the legend symbols between the brackets are blank)
const titleParts = [
  "THOMAS WASHINGTON P16C  \u2013  FULL PROFILE (",
  ")",
  "\u2013  BELOW 2000 DB (",
  ")"
];

// ---------------------------------------------------------------------------
// Layout
// ---------------------------------------------------------------------------
const plotLeft = 144.5, plotRight = 1406.5;
const upperBox = { top: 82.7, bottom: 431.3 };
const lowerBox = { top: 604.0, bottom: 952.7 };
const shear = 0.0069;              // slight slant of the whole sheet
const numFont = "'DejaVu Sans', Verdana, sans-serif";
const serifFont = "'Liberation Serif', 'DejaVu Serif', 'Times New Roman', serif";

const svg = d3.select("#chart");
svg.append("rect").attr("width", 1429).attr("height", 1023).attr("fill", "#fff");
const root = svg.append("g")
  .attr("transform", `matrix(1,${-shear},0,1,0,${(shear * plotLeft).toFixed(3)})`);

const x = d3.scaleLinear().domain(stationDomain).range([plotLeft, plotRight]);

function drawPanel(box, stations, diffs, lineLevel, labelSide) {
  const y = d3.scaleLinear().domain(salinityDomain).range([box.bottom, box.top]);
  const g = root.append("g");

  // Frame
  const frame = g.append("g").attr("stroke", "#000").attr("stroke-width", 1.8).attr("stroke-linecap", "square");
  frame.append("line").attr("x1", x(220)).attr("x2", x(330)).attr("y1", y(0.025)).attr("y2", y(0.025));
  frame.append("line").attr("x1", x(220)).attr("x2", x(330)).attr("y1", y(-0.025)).attr("y2", y(-0.025));
  frame.append("line").attr("x1", x(220)).attr("x2", x(220)).attr("y1", y(-0.025)).attr("y2", y(0.025));
  frame.append("line").attr("x1", x(330)).attr("x2", x(330)).attr("y1", y(-0.025)).attr("y2", y(0.025));

  // Station ticks crossing the top and bottom edges: every 2, long every 10
  const xTicks = x.ticks(55);
  [0.025, -0.025].forEach(edge => {
    frame.append("g").selectAll("line").data(xTicks).join("line")
      .attr("x1", d => x(d)).attr("x2", d => x(d))
      .attr("y1", d => y(edge) - (d % 10 === 0 ? 14 : 7.5))
      .attr("y2", d => y(edge) + (d % 10 === 0 ? 14 : 7.5));
  });

  // Salinity ticks crossing the left and right edges: every 0.002, long every 0.010
  const yTicks = d3.range(-25, 26, 2);
  [220, 330].forEach(edge => {
    frame.append("g").selectAll("line").data(yTicks).join("line")
      .attr("y1", d => y(d / 1000)).attr("y2", d => y(d / 1000))
      .attr("x1", d => x(edge) - ((d + 25) % 10 === 0 ? 14 : 7))
      .attr("x2", d => x(edge) + ((d + 25) % 10 === 0 ? 14 : 7));
  });

  // Salinity tick labels
  g.append("g").selectAll("text").data(salinityTickValues).join("text")
    .attr("x", 116).attr("y", d => y(d)).attr("dy", "0.37em")
    .attr("text-anchor", "end")
    .attr("font-family", numFont).attr("font-size", 17)
    .text((d, i) => salinityTickLabels[i]);

  // Station tick labels + axis title
  const labelY = labelSide === "top" ? box.top - 27.7 : box.bottom + 41.3;
  g.append("g").selectAll("text").data(stationTickLabels).join("text")
    .attr("x", d => x(d)).attr("y", labelY)
    .attr("text-anchor", "middle")
    .attr("font-family", numFont).attr("font-size", 17)
    .text(d => d);
  g.append("text")
    .attr("x", 782).attr("y", labelSide === "top" ? 29 : 1021)
    .attr("text-anchor", "middle")
    .attr("font-family", serifFont).attr("font-size", 22)
    .attr("textLength", 189).attr("lengthAdjust", "spacingAndGlyphs")
    .text("STATION NUMBER");

  // Vertical axis title
  const midY = (box.top + box.bottom) / 2 - 4;
  g.append("text")
    .attr("transform", `translate(36.5,${midY}) rotate(-90)`)
    .attr("text-anchor", "middle")
    .attr("font-family", serifFont).attr("font-size", 24)
    .attr("textLength", 400).attr("lengthAdjust", "spacingAndGlyphs")
    .text("SALINITY DIFFERENCE (ROS  \u2013  CTD)");

  // Reference line
  g.append("line")
    .attr("x1", x(stations[0])).attr("x2", x(330))
    .attr("y1", y(lineLevel / 1000)).attr("y2", y(lineLevel / 1000))
    .attr("stroke", "#000").attr("stroke-width", 1.5);

  // Samples: open circle with a tick from the top to the centre
  const points = stations.flatMap((s, i) => (diffs[i] || []).map(v => ({ s, v })));
  const r = 5;
  const marks = g.append("g").attr("fill", "none").attr("stroke", "#000");
  const sample = marks.selectAll("g").data(points).join("g")
    .attr("transform", d => `translate(${x(d.s)},${y(d.v / 1000)})`);
  sample.append("circle").attr("r", r).attr("stroke-width", 2.2);
  sample.append("line").attr("x1", 0).attr("x2", 0).attr("y1", -r).attr("y2", 0.5).attr("stroke-width", 1.8);
}

drawPanel(upperBox, upperStations, upperDiffs, upperLineLevel, "top");
drawPanel(lowerBox, lowerStations, lowerDiffs, lowerLineLevel, "bottom");

// Title between the panels, set piece by piece
const titleLayout = [
  { x: 163, len: 698 },
  { x: 896, len: null },
  { x: 927, len: 319 },
  { x: 1273, len: null }
];
const title = root.append("g")
  .attr("font-family", serifFont).attr("font-size", 30);
title.selectAll("text").data(titleParts).join("text")
  .attr("x", (d, i) => titleLayout[i].x).attr("y", 497)
  .each(function (d, i) {
    if (titleLayout[i].len) {
      d3.select(this).attr("textLength", titleLayout[i].len).attr("lengthAdjust", "spacingAndGlyphs");
    }
  })
  .text(d => d);
</script>
</body>
</html>
